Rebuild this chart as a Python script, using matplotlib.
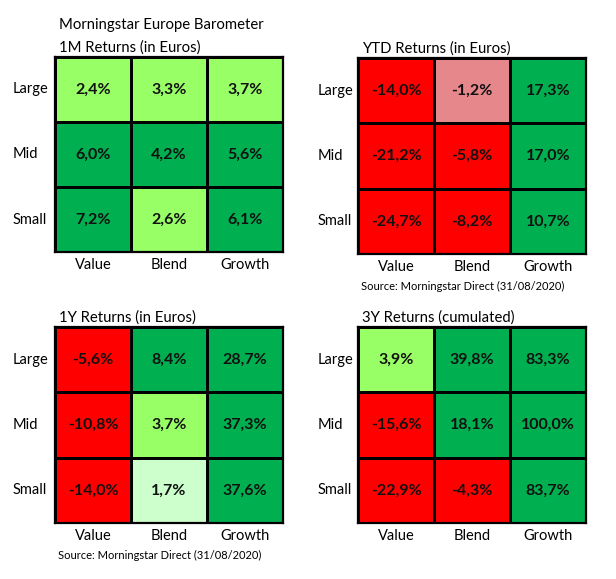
import numpy as np
import matplotlib
matplotlib.use("Agg")
import matplotlib.pyplot as plt
from matplotlib.colors import ListedColormap, BoundaryNorm
from matplotlib.transforms import blended_transform_factory

plt.rcParams['font.family'] = ['Lato', 'DejaVu Sans']

# Data
rows = ["Large", "Mid", "Small"]
cols = ["Value", "Blend", "Growth"]

returns_1m = [[2.4, 3.3, 3.7], [6.0, 4.2, 5.6], [7.2, 2.6, 6.1]]
returns_ytd = [[-14.0, -1.2, 17.3], [-21.2, -5.8, 17.0], [-24.7, -8.2, 10.7]]
returns_1y = [[-5.6, 8.4, 28.7], [-10.8, 3.7, 37.3], [-14.0, 1.7, 37.6]]
returns_3y = [[3.9, 39.8, 83.3], [-15.6, 18.1, 100.0], [-22.9, -4.3, 83.7]]

titles = ["1M Returns (in Euros)", "YTD Returns (in Euros)",
          "1Y Returns (in Euros)", "3Y Returns (cumulated)"]
source = "Source: Morningstar Direct (31/08/2020)"

# Colour bands: strong loss, small loss, tiny gain, small gain, strong gain
cmap = ListedColormap(["#FF0000", "#E6878B", "#CCFFCC", "#99FF66", "#00B050"])
norm = BoundaryNorm([-1000, -2, 0, 2, 4, 1000], cmap.N)

W, H = 616, 579
fig = plt.figure(figsize=(W / 100, H / 100), dpi=100)


def px_axes(x0, y0, x1, y1):
    return fig.add_axes([x0 / W, 1 - y1 / H, (x1 - x0) / W, (y1 - y0) / H])


panels = [
    (returns_1m, (55, 57, 283, 252)),
    (returns_ytd, (358, 58, 586, 254)),
    (returns_1y, (55, 327, 283, 523)),
    (returns_3y, (358, 327, 586, 523)),
]

for i, (data, box) in enumerate(panels):
    ax = px_axes(*box)
    vals = np.array(data)
    ax.pcolormesh(vals, cmap=cmap, norm=norm, edgecolors="black", linewidth=0.8)
    ax.set_xlim(0, 3)
    ax.set_ylim(3, 0)
    for r in range(3):
        for c in range(3):
            txt = f"{vals[r, c]:.1f}%".replace(".", ",")
            ax.text(c + 0.5, r + 0.5, txt, ha="center", va="center",
                    fontsize=11.5, fontweight="bold", color="#111111")
    ax.set_xticks(np.arange(3) + 0.5, cols, fontsize=10.5)
    ax.tick_params(axis="x", length=0, pad=4)
    ax.set_yticks([])
    for s in ax.spines.values():
        s.set_linewidth(1.6)

    # row labels, left aligned
    width_px = box[2] - box[0]
    offset = (42 if box[0] < 300 else 40) / width_px
    trans = blended_transform_factory(ax.transAxes, ax.transData)
    for r, name in enumerate(rows):
        ax.text(-offset, r + 0.5, name, ha="left", va="center",
                fontsize=10.5, transform=trans)

    # panel title
    ax.text(4 / width_px, 1.012, titles[i], ha="left", va="bottom",
            fontsize=10.7, transform=ax.transAxes)

fig.text(59 / W, 1 - 25 / H, "Morningstar Europe Barometer", ha="left",
         va="center", fontsize=10.7)
fig.text(361 / W, 1 - 286 / H, source, ha="left", va="center", fontsize=8)
fig.text(58 / W, 1 - 555 / H, source, ha="left", va="center", fontsize=8)

fig.savefig("out.png", dpi=100, facecolor="white")
